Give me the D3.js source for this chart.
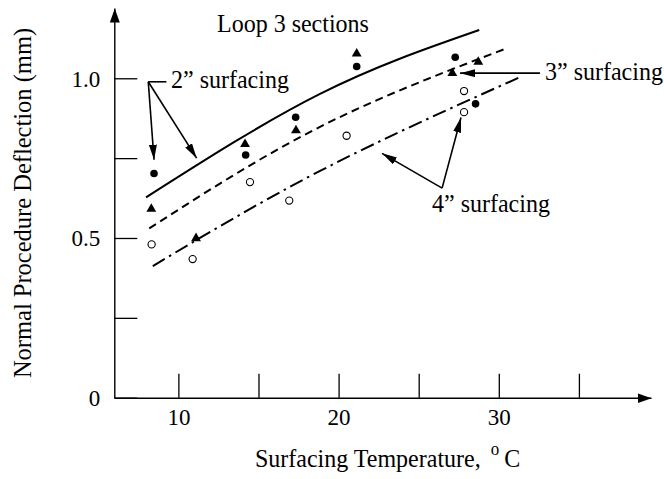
<!DOCTYPE html>
<html>
<head>
<meta charset="utf-8">
<script src="https://cdn.jsdelivr.net/npm/d3@7"></script>
<style>
  html, body { margin: 0; padding: 0; background: #fff; }
  svg { display: block; font-family: "Liberation Serif", "Times New Roman", serif; }
</style>
</head>
<body>
<svg id="chart" width="664" height="479"></svg>
<script>
// Axis ticks
const tempTicks = [10, 15, 20, 25, 30, 35];
const tempLabels = [10, 20, 30];
const deflTicks = [0.25, 0.5, 0.75, 1.0];
const deflLabels = { 0: "0", 0.5: "0.5", 1: "1.0" };

// Measured deflections [temperature °C, deflection mm] by marker type
const filledCircles = [[8.48, 0.702], [14.20, 0.760], [17.32, 0.878], [21.13, 1.037], [27.28, 1.066], [28.55, 0.920]];
const triangles = [[8.31, 0.591], [11.10, 0.499], [14.16, 0.794], [17.34, 0.837], [21.13, 1.077], [27.10, 1.016], [28.72, 1.051]];
const openCircles = [[8.33, 0.480], [10.89, 0.434], [14.47, 0.675], [16.92, 0.617], [20.50, 0.820], [27.83, 0.960], [27.83, 0.894]];

// Fitted trends per surfacing thickness (start, middle, end)
const fit2in = [[7.98, 0.627], [18.84, 0.951], [28.78, 1.151]];
const fit3in = [[8.18, 0.530], [18.84, 0.848], [30.39, 1.092]];
const fit4in = [[8.40, 0.412], [19.00, 0.714], [31.39, 1.005]];

const svg = d3.select("#chart");

const x = d3.scaleLinear().domain([6, 39.5]).range([114.3, 651]);
const y = d3.scaleLinear().domain([0, 1.22]).range([397.7, 8]);

const defs = svg.append("defs");
defs.append("marker")
  .attr("id", "axisHead")
  .attr("markerUnits", "userSpaceOnUse")
  .attr("viewBox", "0 0 14 10")
  .attr("refX", 14).attr("refY", 5)
  .attr("markerWidth", 14).attr("markerHeight", 10)
  .attr("orient", "auto")
  .append("path").attr("d", "M0,0L14,5L0,10Z").attr("fill", "#000");
defs.append("marker")
  .attr("id", "noteHead")
  .attr("markerUnits", "userSpaceOnUse")
  .attr("viewBox", "0 0 15 8")
  .attr("refX", 15).attr("refY", 4)
  .attr("markerWidth", 15).attr("markerHeight", 8)
  .attr("orient", "auto")
  .append("path").attr("d", "M0,0L15,4L0,8Z").attr("fill", "#000");

// X axis: ticks point up into the plot
const xAxis = svg.append("g")
  .attr("transform", `translate(0,${y(0)})`)
  .call(d3.axisBottom(x).tickValues(tempTicks).tickSize(-24).tickSizeOuter(0)
    .tickFormat(d => tempLabels.includes(d) ? String(d) : ""));
xAxis.select(".domain").attr("stroke", "#000").attr("stroke-width", 1.4).attr("marker-end", "url(#axisHead)");
xAxis.selectAll(".tick line").attr("stroke", "#000").attr("stroke-width", 1.3);
xAxis.selectAll(".tick text")
  .attr("y", 27).attr("dy", 0)
  .attr("font-size", 23).attr("font-family", "Liberation Serif").attr("fill", "#000");

// Y axis: ticks point right into the plot
const yAxis = svg.append("g")
  .attr("transform", `translate(${x(6)},0)`)
  .call(d3.axisLeft(y).tickValues([0].concat(deflTicks)).tickSize(-23).tickSizeOuter(0)
    .tickFormat(d => deflLabels[d] !== undefined ? deflLabels[d] : ""));
yAxis.select(".domain").attr("stroke", "#000").attr("stroke-width", 1.4).attr("marker-end", "url(#axisHead)");
yAxis.selectAll(".tick line").attr("stroke", "#000").attr("stroke-width", 1.3);
yAxis.selectAll(".tick text")
  .attr("x", -14).attr("dy", "0.34em")
  .attr("font-size", 23).attr("font-family", "Liberation Serif").attr("fill", "#000");

// Trend lines
const line = d3.line().x(d => x(d[0])).y(d => y(d[1])).curve(d3.curveNatural);
const fits = [
  { data: fit2in, dash: null },
  { data: fit3in, dash: "8,5" },
  { data: fit4in, dash: "14,5,2.5,5" }
];
svg.append("g").selectAll("path").data(fits).join("path")
  .attr("d", d => line(d.data))
  .attr("fill", "none")
  .attr("stroke", "#000")
  .attr("stroke-width", 2)
  .attr("stroke-dasharray", d => d.dash);

// Data markers
const pts = svg.append("g");
pts.selectAll(".fc").data(filledCircles).join("circle")
  .attr("cx", d => x(d[0])).attr("cy", d => y(d[1])).attr("r", 3.8).attr("fill", "#000");
pts.selectAll(".oc").data(openCircles).join("circle")
  .attr("cx", d => x(d[0])).attr("cy", d => y(d[1])).attr("r", 3.6)
  .attr("fill", "#fff").attr("stroke", "#000").attr("stroke-width", 1.1);
pts.selectAll(".tri").data(triangles).join("path")
  .attr("d", d3.symbol(d3.symbolTriangle, 42))
  .attr("transform", d => `translate(${x(d[0])},${y(d[1])})`)
  .attr("fill", "#000");

// Text with slightly tall glyphs, as in the printed figure
function label(parent, px, py, size, rotate) {
  const rot = rotate ? " rotate(-90)" : "";
  return parent.append("text")
    .attr("transform", `translate(${px},${py})${rot} scale(1,1.07)`)
    .attr("font-size", size).attr("fill", "#000");
}

// Annotations
const notes = svg.append("g");
label(notes, 217, 32, 24).text("Loop 3 sections");
label(notes, 171, 88, 24).text("2\u201D surfacing");
label(notes, 545, 80, 24).text("3\u201D surfacing");
label(notes, 432, 212, 24).text("4\u201D surfacing");

// Leader lines (anchors given in chart units)
const leaders = [
  { from: [8.12, 0.989], to: [9.25, 0.989], head: false },
  { from: [8.12, 0.989], to: [8.48, 0.745], head: true },
  { from: [8.12, 0.989], to: [11.14, 0.750], head: true },
  { from: [32.57, 1.016], to: [27.58, 1.016], head: true },
  { from: [26.46, 0.656], to: [22.71, 0.765], head: true },
  { from: [26.46, 0.656], to: [27.64, 0.877], head: true }
];
svg.append("g").selectAll("line").data(leaders).join("line")
  .attr("x1", d => x(d.from[0])).attr("y1", d => y(d.from[1]))
  .attr("x2", d => x(d.to[0])).attr("y2", d => y(d.to[1]))
  .attr("stroke", "#000").attr("stroke-width", 1.6)
  .attr("marker-end", d => d.head ? "url(#noteHead)" : null);

// Axis titles
const xt = label(svg, 255, 467, 24);
xt.append("tspan").text("Surfacing Temperature,");
xt.append("tspan").attr("font-size", 17).attr("dx", 10).attr("dy", -11).text("o");
xt.append("tspan").attr("dx", 5).attr("dy", 11).text("C");

label(svg, 31, 203, 24.5, true)
  .attr("text-anchor", "middle")
  .text("Normal Procedure Deflection (mm)");
</script>
</body>
</html>
